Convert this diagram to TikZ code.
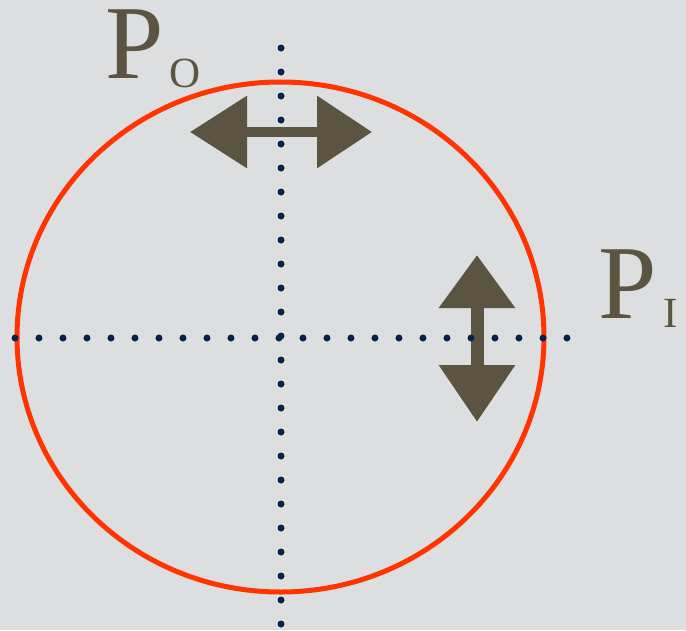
\documentclass[tikz,border=0pt]{standalone}
\usepackage{fontspec}
\setmainfont{Liberation Serif}
\usepackage{tikz}
\usetikzlibrary{arrows.meta,positioning}
\definecolor{paper}{RGB}{221,222,224}
\definecolor{ring}{RGB}{255,52,0}
\definecolor{olive}{RGB}{91,84,64}
\definecolor{navy}{RGB}{8,34,78}

\begin{document}
\begin{tikzpicture}[x=1pt,y=-1pt,
  bigP/.style={inner sep=0pt,anchor=base west,text=olive,text height=69pt,text depth=0pt,font=\fontsize{105}{105}\selectfont},
  subP/.style={inner sep=0pt,anchor=base west,text=olive,text height=29pt,text depth=0pt,font=\fontsize{43}{43}\selectfont},
  hshift/.style={line width=10pt,olive,{Triangle[length=57pt,width=70pt]}-{Triangle[length=55pt,width=70pt]}},
  vshift/.style={line width=13pt,olive,{Triangle[length=53pt,width=73pt]}-{Triangle[length=57pt,width=73pt]}},
  dot/.style={navy,fill=navy}]
\fill[paper] (0,0) rectangle (686,630);
\useasboundingbox (0,0) rectangle (686,630);
% ring
\coordinate (c) at (280.5,337);
\draw[ring,line width=5pt] (c) ellipse [x radius=263.5,y radius=255];
% shift arrows
\coordinate (po-l) at (190,132);
\coordinate (po-r) at (372,132);
\coordinate (pi-t) at (477,255);
\coordinate (pi-b) at (477,422);
\draw[hshift] (po-l) -- (po-r);
\draw[vshift] (pi-t) -- (pi-b);
% dotted axes
\foreach \i in {0,...,23} \fill[dot] (15+24*\i,338) circle (3.5);
\foreach \i in {0,...,24} \fill[dot] (281,48+24*\i) circle (3.5);
% labels
\node[bigP] (po-P) at (105,78) {P};
\node[subP] (po-sub) at (169,87) {O};
\node[bigP] (pi-P) at (598,318) {P};
\node[subP] (pi-sub) at (663,327) {I};
\end{tikzpicture}
\end{document}
